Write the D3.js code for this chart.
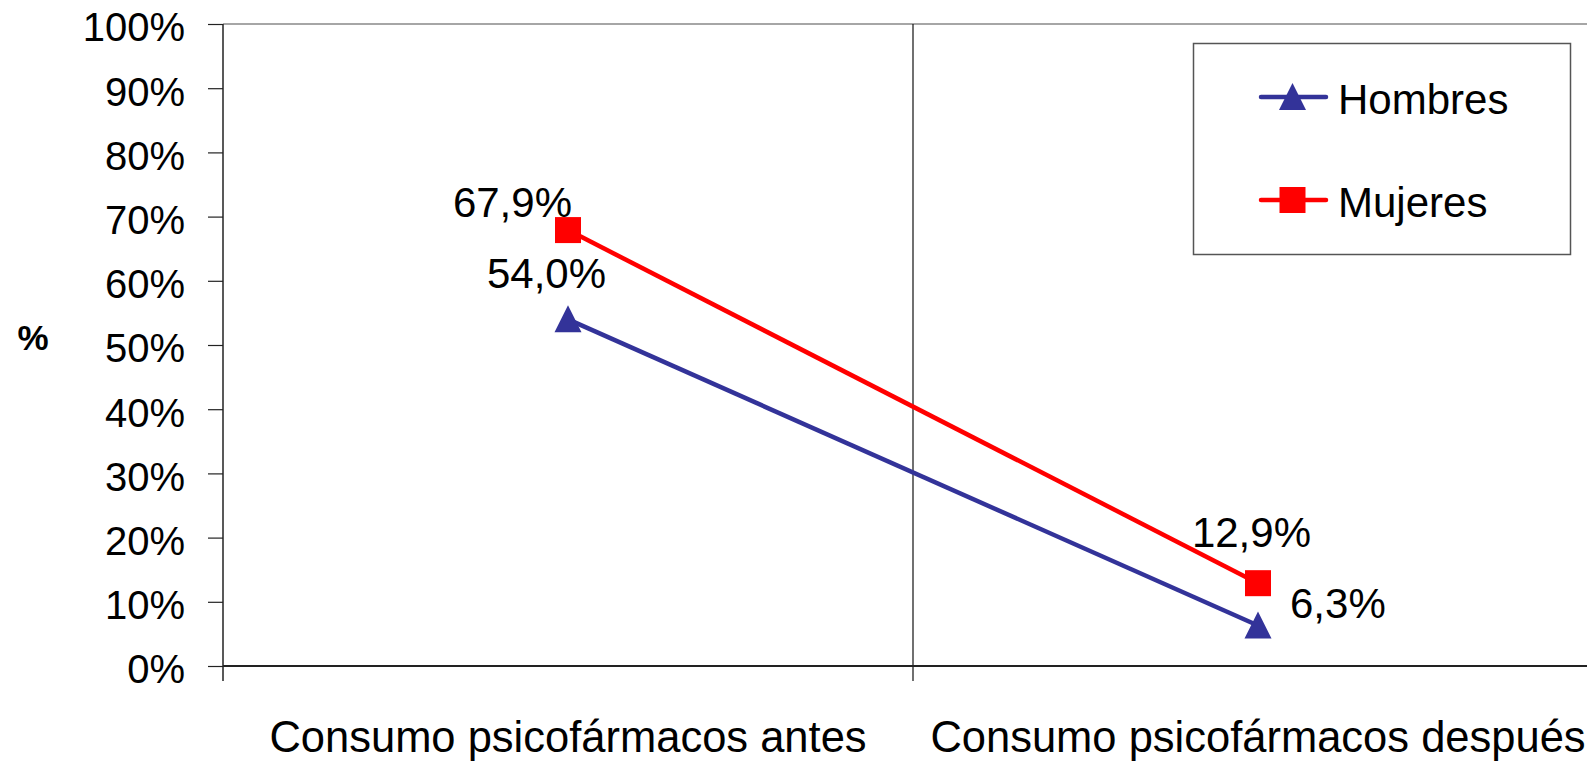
<!DOCTYPE html>
<html>
<head>
<meta charset="utf-8">
<script src="https://cdn.jsdelivr.net/npm/d3@7"></script>
<style>
  html, body { margin: 0; padding: 0; background: #fff; }
  svg { display: block; font-family: "Liberation Sans", Arial, Helvetica, sans-serif; }
</style>
</head>
<body>
<svg id="chart" width="1587" height="762"></svg>
<script>
// Categories on the x axis
const categories = ["Consumo psicofármacos antes", "Consumo psicofármacos después"];
// Series values (%)
const hombres = [54.0, 6.3];
const mujeres = [67.9, 12.9];
// Value labels shown next to each point
const hombresLabels = ["54,0%", "6,3%"];
const mujeresLabels = ["67,9%", "12,9%"];
// Y axis ticks
const yTicks = [0, 10, 20, 30, 40, 50, 60, 70, 80, 90, 100];
const yTickLabels = ["0%", "10%", "20%", "30%", "40%", "50%", "60%", "70%", "80%", "90%", "100%"];

const svg = d3.select("#chart");

const plot = { left: 223, top: 24, bottom: 666, band: 690 };

const x = d3.scaleBand()
  .domain(categories)
  .range([plot.left, plot.left + plot.band * categories.length])
  .padding(0);

const y = d3.scaleLinear().domain([0, 100]).range([plot.bottom, plot.top]);

const cx = c => x(c) + x.bandwidth() / 2;

// Plot frame top edge
svg.append("line")
  .attr("x1", plot.left).attr("x2", 1587)
  .attr("y1", y(100)).attr("y2", y(100))
  .attr("stroke", "#a6a6a6").attr("stroke-width", 2);

// Category separators (full height, with tick below the axis)
categories.forEach((c, i) => {
  if (i === 0) return;
  svg.append("line")
    .attr("x1", x(c)).attr("x2", x(c))
    .attr("y1", y(100)).attr("y2", plot.bottom + 15)
    .attr("stroke", "#111").attr("stroke-width", 1.2);
});

// Y axis
const yAxis = d3.axisLeft(y)
  .tickValues(yTicks)
  .tickFormat((d, i) => yTickLabels[i])
  .tickSize(15)
  .tickPadding(23);

const yg = svg.append("g")
  .attr("transform", `translate(${plot.left},0)`)
  .call(yAxis);
yg.select(".domain").remove();
yg.selectAll(".tick line").attr("stroke", "#222").attr("stroke-width", 1.2);
yg.selectAll(".tick text")
  .attr("fill", "#000")
  .attr("font-size", 40)
  .attr("dy", "0.42em");

// Y axis line, extending below zero
svg.append("line")
  .attr("x1", plot.left).attr("x2", plot.left)
  .attr("y1", y(100)).attr("y2", plot.bottom + 15)
  .attr("stroke", "#222").attr("stroke-width", 1.5);

// X axis line
svg.append("line")
  .attr("x1", plot.left).attr("x2", 1587)
  .attr("y1", y(0)).attr("y2", y(0))
  .attr("stroke", "#222").attr("stroke-width", 2);

// Category labels
svg.selectAll("text.cat")
  .data(categories)
  .join("text")
  .attr("class", "cat")
  .attr("x", d => cx(d))
  .attr("y", 751.5)
  .attr("text-anchor", "middle")
  .attr("font-size", 43.5)
  .attr("fill", "#000")
  .text(d => d);

// Y axis title
svg.append("text")
  .attr("x", 33).attr("y", 350)
  .attr("text-anchor", "middle")
  .attr("font-size", 35)
  .attr("font-weight", "bold")
  .text("%");

const line = d3.line().x(d => cx(d.c)).y(d => y(d.v));

const series = [
  { name: "Hombres", values: hombres, labels: hombresLabels, color: "#333399", symbol: "triangle",
    place: [{ dx: -21.5, dy: -31.5, anchor: "middle" }, { dx: 32, dy: -8, anchor: "start" }] },
  { name: "Mujeres", values: mujeres, labels: mujeresLabels, color: "#ff0000", symbol: "square",
    place: [{ dx: 4, dy: -13, anchor: "end" }, { dx: 53, dy: -36, anchor: "end" }] }
];

function drawMarker(g, kind, px, py, color) {
  if (kind === "square") {
    g.append("rect")
      .attr("x", px - 13).attr("y", py - 13)
      .attr("width", 26).attr("height", 26)
      .attr("fill", color);
  } else {
    g.append("path")
      .attr("d", `M${px},${py - 14} L${px + 13.5},${py + 13} L${px - 13.5},${py + 13} Z`)
      .attr("fill", color);
  }
}

series.forEach(s => {
  const pts = categories.map((c, i) => ({ c, v: s.values[i] }));
  svg.append("path")
    .datum(pts)
    .attr("d", line)
    .attr("fill", "none")
    .attr("stroke", s.color)
    .attr("stroke-width", 4.5);
  const g = svg.append("g");
  pts.forEach(p => drawMarker(g, s.symbol, cx(p.c), y(p.v), s.color));
  pts.forEach((p, i) => {
    const pl = s.place[i];
    svg.append("text")
      .attr("x", cx(p.c) + pl.dx)
      .attr("y", y(p.v) + pl.dy)
      .attr("text-anchor", pl.anchor)
      .attr("font-size", 42)
      .attr("fill", "#000")
      .text(s.labels[i]);
  });
});

// Legend
const legend = svg.append("g");
legend.append("rect")
  .attr("x", 1193.5).attr("y", 43.5)
  .attr("width", 377).attr("height", 211)
  .attr("fill", "#fff")
  .attr("stroke", "#555").attr("stroke-width", 1.5);

const legendRows = [97, 200];
series.forEach((s, i) => {
  const ly = legendRows[i];
  legend.append("line")
    .attr("x1", 1261).attr("x2", 1326)
    .attr("y1", ly).attr("y2", ly)
    .attr("stroke", s.color).attr("stroke-width", 4.5)
    .attr("stroke-linecap", "round");
  drawMarker(legend, s.symbol, 1292.5, ly, s.color);
  legend.append("text")
    .attr("x", 1338).attr("y", ly + 17)
    .attr("font-size", 42)
    .attr("fill", "#000")
    .text(s.name);
});
</script>
</body>
</html>
